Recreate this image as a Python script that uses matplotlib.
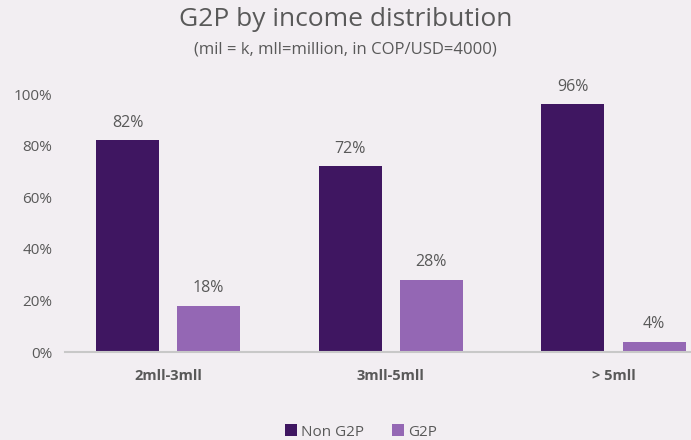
import matplotlib
matplotlib.use("Agg")
import matplotlib.pyplot as plt
import numpy as np

categories = ["2mll-3mll", "3mll-5mll", "> 5mll"]
non_g2p = [82, 72, 96]
g2p = [18, 28, 4]
series_names = ["Non G2P", "G2P"]
yticks = [0, 20, 40, 60, 80, 100]

dark = "#3F1661"
light = "#9467B4"
bg = "#F2EEF2"
txt = "#595959"

plt.rcParams['font.family'] = ['Open Sans', 'DejaVu Sans']

W, H = 691, 440
fig = plt.figure(figsize=(W/100, H/100), dpi=100, facecolor=bg)
ax_left, ax_right = 65, 691
ax_bottom, ax_top = 352, 94
ax = fig.add_axes([ax_left/W, 1-ax_bottom/H, (ax_right-ax_left)/W, (ax_bottom-ax_top)/H])
ax.set_facecolor(bg)

x = np.arange(len(categories))
unit = 222.75
bw = 63/unit
off = 0.182
b1 = ax.bar(x-off, non_g2p, bw, color=dark, label=series_names[0], zorder=3)
b2 = ax.bar(x+off, g2p, bw, color=light, label=series_names[1], zorder=3)

for bars, vals in ((b1, non_g2p), (b2, g2p)):
    for r, v in zip(bars, vals):
        ax.annotate(f"{v}%", (r.get_x()+r.get_width()/2, v), xytext=(0, 7),
                    textcoords="offset points", ha="center", va="bottom",
                    fontsize=11.5, color=txt)

ax.set_xlim((ax_left-168)/unit, (ax_right-168)/unit)
ax.set_ylim(0, 100)
ax.set_yticks(yticks)
ax.set_yticklabels([f"{t}%" for t in yticks], fontsize=11, color=txt)
ax.set_xticks(x)
ax.set_xticklabels(categories, fontsize=10.5, fontweight="bold", color=txt)
ax.tick_params(axis="both", length=0)
ax.tick_params(axis="y", pad=9)
ax.tick_params(axis="x", pad=12)
for s in ["top", "right", "left"]:
    ax.spines[s].set_visible(False)
ax.spines["bottom"].set_color("#C8C8C8")
ax.spines["bottom"].set_linewidth(1.5)
ax.spines["bottom"].set_zorder(4)

fig.text(0.5, 1-20/H, "G2P by income distribution", ha="center", va="center",
         fontsize=19, color=txt)
fig.text(0.5, 1-49/H, "(mil = k, mll=million, in COP/USD=4000)", ha="center",
         va="center", fontsize=12, color=txt)

fig.legend(handles=[b1, b2], labels=series_names, loc="center",
           bbox_to_anchor=(361/W, 1-432/H), ncol=2, frameon=False,
           fontsize=11, handlelength=0.8, handleheight=0.8, handletextpad=0.3,
           columnspacing=1.8, labelcolor=txt)

fig.savefig("out.png", dpi=100, facecolor=bg)
